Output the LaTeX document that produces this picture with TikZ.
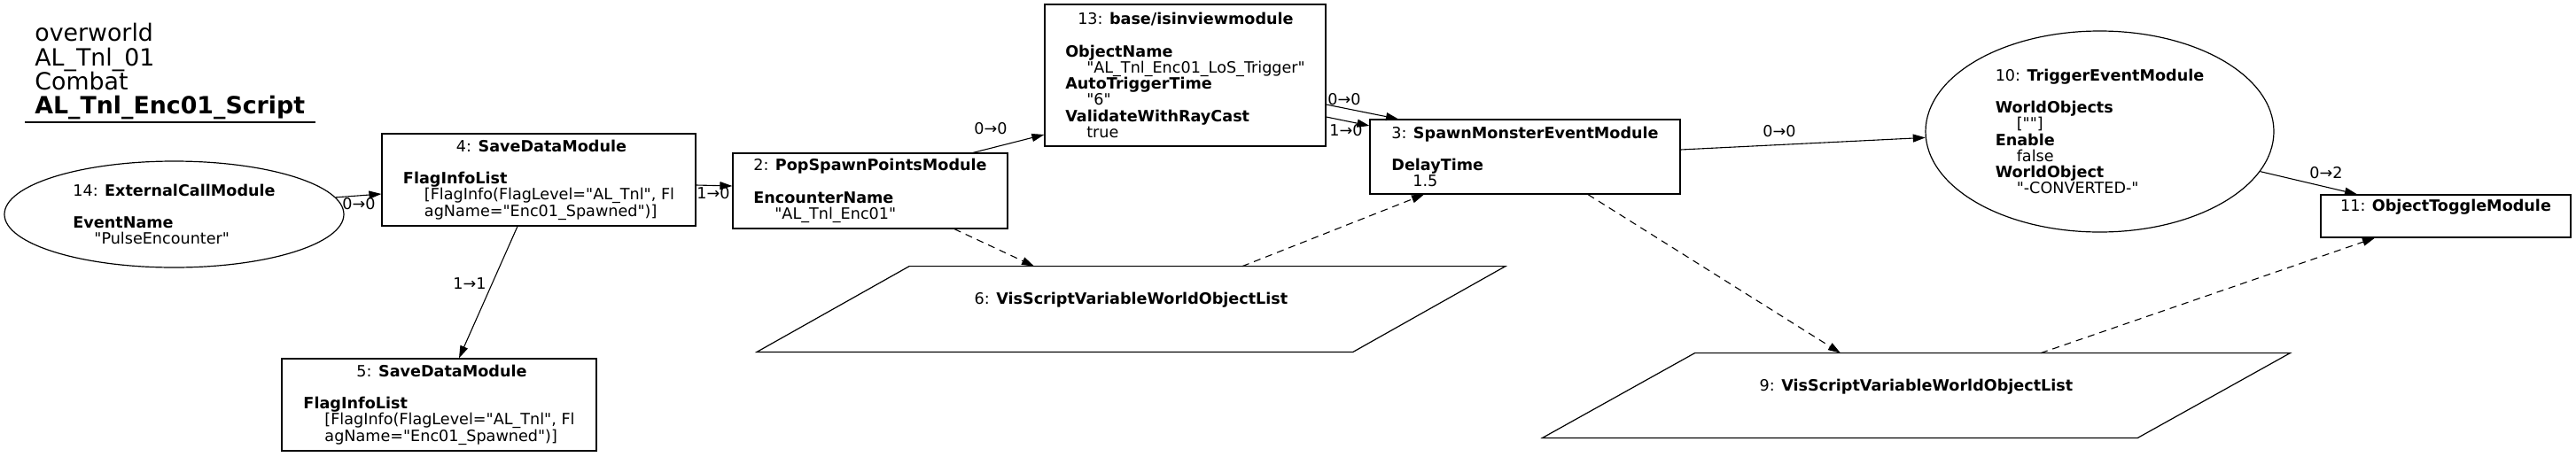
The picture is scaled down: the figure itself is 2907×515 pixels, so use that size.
\documentclass[tikz,border=0pt]{standalone}
\usepackage{fontspec}
\setmainfont{DejaVu Sans}[Ligatures=TeXOff]
\usetikzlibrary{arrows.meta,shapes.geometric}
\newcommand{\txt}{\fontsize{8.8}{9.1}\selectfont}
\newcommand{\val}{\hspace*{12pt}}

\begin{document}
\begin{tikzpicture}[x=0.5pt, y=-0.5pt,
    caja/.style={draw, line width=0.6pt, inner sep=0pt, align=left, font=\txt},
    elipse/.style={ellipse, draw, line width=0.6pt, inner sep=0pt, align=left, font=\txt},
    lista/.style={inner sep=0pt, align=left, font=\txt},
    borde/.style={line width=0.6pt},
    flecha/.style={-{Triangle[length=7pt,width=4.5pt]}, line width=0.55pt},
    punteada/.style={flecha, dash pattern=on 4pt off 3pt},
    etiq/.style={font=\txt, inner sep=0pt}]
    \useasboundingbox (0,0) rectangle (2907,515);
    % titulo
    \node[anchor=north west, align=left, inner sep=0pt, font=\fontsize{13.4}{13.65}\selectfont] (titulo) at (39,26) {overworld\\AL\_Tnl\_01\\Combat\\\textbf{AL\_Tnl\_Enc01\_Script}};
    \draw[borde] (28,138) -- (356,138);
    % modulos
    \node[elipse, minimum width=191.5pt, minimum height=60pt] (n14) at (196.5,242) {14: \textbf{ExternalCallModule}\\[9.1pt]\textbf{EventName}\\\val"PulseEncounter"};
    \node[caja, minimum width=177pt, minimum height=52pt] (n4) at (608,203) {\hspace*{30pt}4: \textbf{SaveDataModule}\\[9.1pt]\textbf{FlagInfoList}\\\val[FlagInfo(FlagLevel="AL\_Tnl", Fl\\\val agName="Enc01\_Spawned")]};
    \node[caja, minimum width=177.5pt, minimum height=52pt] (n5) at (495.5,457) {\hspace*{30pt}5: \textbf{SaveDataModule}\\[9.1pt]\textbf{FlagInfoList}\\\val[FlagInfo(FlagLevel="AL\_Tnl", Fl\\\val agName="Enc01\_Spawned")]};
    \node[caja, minimum width=155pt, minimum height=42.5pt] (n2) at (982,215.5) {2: \textbf{PopSpawnPointsModule}\\[9.1pt]\textbf{EncounterName}\\\val"AL\_Tnl\_Enc01"};
    \node[caja, minimum width=158.5pt, minimum height=80pt] (n13) at (1337.5,85) {\hspace*{7pt}13: \textbf{base/isinviewmodule}\\[9.1pt]\textbf{ObjectName}\\\val"AL\_Tnl\_Enc01\_LoS\_Trigger"\\\textbf{AutoTriggerTime}\\\val"6"\\\textbf{ValidateWithRayCast}\\\val true};
    \node[caja, minimum width=175pt, minimum height=42pt] (n3) at (1721,177) {3: \textbf{SpawnMonsterEventModule}\\[9.1pt]\textbf{DelayTime}\\\val 1.5};
    \node[elipse, minimum width=196.5pt, minimum height=113.5pt] (n10) at (2369.5,148.5) {10: \textbf{TriggerEventModule}\\[9.1pt]\textbf{WorldObjects}\\\val[""]\\\textbf{Enable}\\\val false\\\textbf{WorldObject}\\\val"-CONVERTED-"};
    \node[caja, minimum width=141pt, minimum height=24pt] (n11) at (2760,244) {11: \textbf{ObjectToggleModule}\\\strut};
    % listas de objetos
    \node[lista, minimum width=336pt, minimum height=48pt] (n6) at (1276.5,349) {6: \textbf{VisScriptVariableWorldObjectList}\\\strut};
    \draw[borde] ([xshift=43pt]n6.north west) -- ([xshift=43pt]n6.north east) -- ([xshift=-43pt]n6.south east) -- ([xshift=-43pt]n6.south west) -- cycle;
    \node[lista, minimum width=335.5pt, minimum height=47.5pt] (n9) at (2162.5,446.5) {9: \textbf{VisScriptVariableWorldObjectList}\\\strut};
    \draw[borde] ([xshift=43pt]n9.north west) -- ([xshift=43pt]n9.north east) -- ([xshift=-43pt]n9.south east) -- ([xshift=-43pt]n9.south west) -- cycle;
    % conexiones
    \draw[flecha] (n14.6) -- ([yshift=-8pt]n4.west) node[etiq, at={(405,230)}] {0→0};
    \draw[flecha] ([yshift=-3pt]n4.east) -- ([yshift=2.75pt]n2.west) node[etiq, at={(805,218)}] {1→0};
    \draw[flecha] ([xshift=-12pt]n4.south) -- ([xshift=11.25pt]n5.north) node[etiq, at={(530,320)}] {1→1};
    \draw[flecha] ([xshift=58pt]n2.north) -- ([yshift=-33.5pt]n13.west) node[etiq, at={(1118,145)}] {0→0};
    \draw[flecha] ([yshift=-16.5pt]n13.east) -- ([xshift=-71.5pt]n3.north) node[etiq, at={(1517,112)}] {0→0};
    \draw[flecha] ([yshift=-23.5pt]n13.east) -- ([yshift=17.5pt]n3.west) node[etiq, at={(1519,147)}] {1→0};
    \draw[flecha] ([yshift=4pt]n3.east) -- (n10.182) node[etiq, at={(2008,148)}] {0→0};
    \draw[flecha] (n10.346) -- ([xshift=-50pt]n11.north) node[etiq, at={(2625,195)}] {0→2};
    % variables (punteadas)
    \draw[punteada] ([xshift=47.5pt]n2.south) -- ([xshift=-54.75pt]n6.north);
    \draw[punteada] ([xshift=62.75pt]n6.north) -- ([xshift=-57pt]n3.south);
    \draw[punteada] ([xshift=35.5pt]n3.south) -- ([xshift=-42.75pt]n9.north);
    \draw[punteada] ([xshift=70.25pt]n9.north) -- ([xshift=-40pt]n11.south);
\end{tikzpicture}
\end{document}
